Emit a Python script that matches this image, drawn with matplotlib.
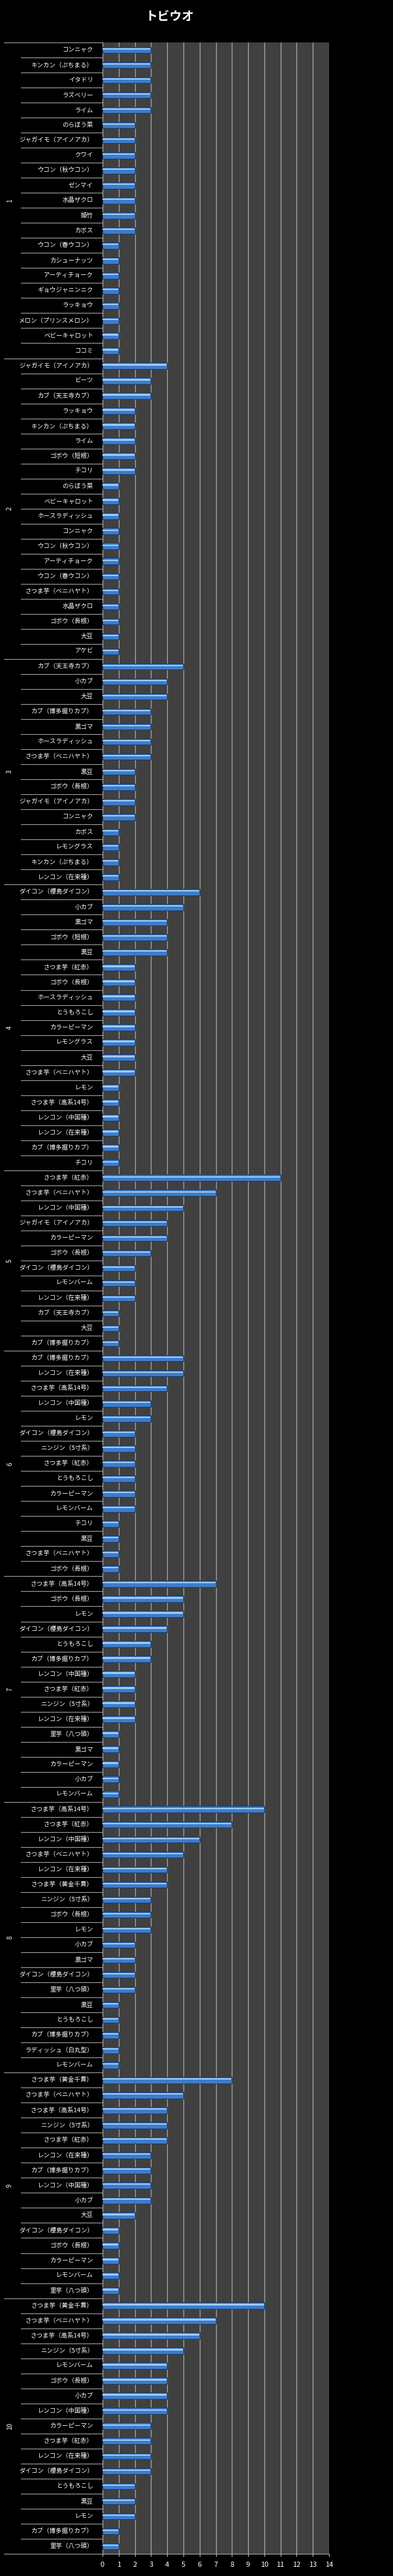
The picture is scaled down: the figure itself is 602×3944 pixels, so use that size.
import numpy as np
import matplotlib
matplotlib.use("Agg")
from matplotlib import pyplot as plt

plt.rcParams['font.family'] = ['Noto Sans CJK JP', 'DejaVu Sans']

title = "トビウオ"
groups = ["1", "2", "3", "4", "5", "6", "7", "8", "9", "10"]

g1_names = ["コンニャク", "キンカン（ぷちまる）", "イタドリ", "ラズベリー", "ライム", "のらぼう菜",
            "ジャガイモ（アイノアカ）", "クワイ", "ウコン（秋ウコン）", "ゼンマイ", "水晶ザクロ", "姫竹",
            "カボス", "ウコン（春ウコン）", "カシューナッツ", "アーティチョーク", "ギョウジャニンニク",
            "ラッキョウ", "メロン（プリンスメロン）", "ベビーキャロット", "ココミ"]
g1_vals = [3, 3, 3, 3, 3, 2, 2, 2, 2, 2, 2, 2, 2, 1, 1, 1, 1, 1, 1, 1, 1]

g2_names = ["ジャガイモ（アイノアカ）", "ビーツ", "カブ（天王寺カブ）", "ラッキョウ", "キンカン（ぷちまる）",
            "ライム", "ゴボウ（短根）", "チコリ", "のらぼう菜", "ベビーキャロット", "ホースラディッシュ",
            "コンニャク", "ウコン（秋ウコン）", "アーティチョーク", "ウコン（春ウコン）",
            "さつま芋（ベニハヤト）", "水晶ザクロ", "ゴボウ（長根）", "大豆", "アケビ"]
g2_vals = [4, 3, 3, 2, 2, 2, 2, 2, 1, 1, 1, 1, 1, 1, 1, 1, 1, 1, 1, 1]

g3_names = ["カブ（天王寺カブ）", "小カブ", "大豆", "カブ（博多据りカブ）", "黒ゴマ", "ホースラディッシュ",
            "さつま芋（ベニハヤト）", "黒豆", "ゴボウ（長根）", "ジャガイモ（アイノアカ）", "コンニャク",
            "カボス", "レモングラス", "キンカン（ぷちまる）", "レンコン（在来種）"]
g3_vals = [5, 4, 4, 3, 3, 3, 3, 2, 2, 2, 2, 1, 1, 1, 1]

g4_names = ["ダイコン（櫻島ダイコン）", "小カブ", "黒ゴマ", "ゴボウ（短根）", "黒豆", "さつま芋（紅赤）",
            "ゴボウ（長根）", "ホースラディッシュ", "とうもろこし", "カラーピーマン", "レモングラス", "大豆",
            "さつま芋（ベニハヤト）", "レモン", "さつま芋（高系14号）", "レンコン（中国種）",
            "レンコン（在来種）", "カブ（博多据りカブ）", "チコリ"]
g4_vals = [6, 5, 4, 4, 4, 2, 2, 2, 2, 2, 2, 2, 2, 1, 1, 1, 1, 1, 1]

g5_names = ["さつま芋（紅赤）", "さつま芋（ベニハヤト）", "レンコン（中国種）", "ジャガイモ（アイノアカ）",
            "カラーピーマン", "ゴボウ（長根）", "ダイコン（櫻島ダイコン）", "レモンバーム",
            "レンコン（在来種）", "カブ（天王寺カブ）", "大豆", "カブ（博多据りカブ）"]
g5_vals = [11, 7, 5, 4, 4, 3, 2, 2, 2, 1, 1, 1]

g6_names = ["カブ（博多据りカブ）", "レンコン（在来種）", "さつま芋（高系14号）", "レンコン（中国種）", "レモン",
            "ダイコン（櫻島ダイコン）", "ニンジン（5寸系）", "さつま芋（紅赤）", "とうもろこし",
            "カラーピーマン", "レモンバーム", "チコリ", "黒豆", "さつま芋（ベニハヤト）", "ゴボウ（長根）"]
g6_vals = [5, 5, 4, 3, 3, 2, 2, 2, 2, 2, 2, 1, 1, 1, 1]

g7_names = ["さつま芋（高系14号）", "ゴボウ（長根）", "レモン", "ダイコン（櫻島ダイコン）", "とうもろこし",
            "カブ（博多据りカブ）", "レンコン（中国種）", "さつま芋（紅赤）", "ニンジン（5寸系）",
            "レンコン（在来種）", "里芋（八つ頭）", "黒ゴマ", "カラーピーマン", "小カブ", "レモンバーム"]
g7_vals = [7, 5, 5, 4, 3, 3, 2, 2, 2, 2, 1, 1, 1, 1, 1]

g8_names = ["さつま芋（高系14号）", "さつま芋（紅赤）", "レンコン（中国種）", "さつま芋（ベニハヤト）",
            "レンコン（在来種）", "さつま芋（黄金千貫）", "ニンジン（5寸系）", "ゴボウ（長根）", "レモン",
            "小カブ", "黒ゴマ", "ダイコン（櫻島ダイコン）", "里芋（八つ頭）", "黒豆", "とうもろこし",
            "カブ（博多据りカブ）", "ラディッシュ（白丸型）", "レモンバーム"]
g8_vals = [10, 8, 6, 5, 4, 4, 3, 3, 3, 2, 2, 2, 2, 1, 1, 1, 1, 1]

g9_names = ["さつま芋（黄金千貫）", "さつま芋（ベニハヤト）", "さつま芋（高系14号）", "ニンジン（5寸系）",
            "さつま芋（紅赤）", "レンコン（在来種）", "カブ（博多据りカブ）", "レンコン（中国種）", "小カブ",
            "大豆", "ダイコン（櫻島ダイコン）", "ゴボウ（長根）", "カラーピーマン", "レモンバーム",
            "里芋（八つ頭）"]
g9_vals = [8, 5, 4, 4, 4, 3, 3, 3, 3, 2, 1, 1, 1, 1, 1]

g10_names = ["さつま芋（黄金千貫）", "さつま芋（ベニハヤト）", "さつま芋（高系14号）", "ニンジン（5寸系）",
             "レモンバーム", "ゴボウ（長根）", "小カブ", "レンコン（中国種）", "カラーピーマン",
             "さつま芋（紅赤）", "レンコン（在来種）", "ダイコン（櫻島ダイコン）", "とうもろこし", "黒豆",
             "レモン", "カブ（博多据りカブ）", "里芋（八つ頭）"]
g10_vals = [10, 7, 6, 5, 4, 4, 4, 4, 3, 3, 3, 3, 2, 2, 2, 1, 1]

all_names = [g1_names, g2_names, g3_names, g4_names, g5_names,
             g6_names, g7_names, g8_names, g9_names, g10_names]
all_vals = [g1_vals, g2_vals, g3_vals, g4_vals, g5_vals,
            g6_vals, g7_vals, g8_vals, g9_vals, g10_vals]

names = [n for g in all_names for n in g]
vals = np.array([v for g in all_vals for v in g])
sizes = [len(g) for g in all_names]
ypos = np.arange(len(names))

W, H = 602, 3944
fig = plt.figure(figsize=(W / 100, H / 100), dpi=100, facecolor='black')
left, right, top, bottom = 157, 504, 65, 3910
ax = fig.add_axes([left / W, 1 - bottom / H, (right - left) / W, (bottom - top) / H])
ax.set_facecolor('#404040')

# bars with a simple highlight stripe for the bevelled look
ax.barh(ypos, vals, height=0.42, color='#3f7cc8', edgecolor='#1b3d6e', linewidth=0.8, zorder=3)
ax.barh(ypos - 0.07, vals - 0.06, height=0.1, left=0.02, color='#9ccaf5', linewidth=0, zorder=4)

ax.set_xlim(0, 14)
ax.set_ylim(len(names) - 0.5, -0.5)
ax.set_xticks(np.arange(0, 15))
ax.xaxis.grid(True, color='#a8a8a8', linewidth=0.9, zorder=0)
ax.set_axisbelow(True)
ax.tick_params(axis='x', colors='#c8c8c8', labelsize=8, length=3, width=0.8, pad=6)
for t in ax.get_xticklabels():
    t.set_color('white')
ax.set_yticks([])
for side in ['top', 'right']:
    ax.spines[side].set_visible(False)
ax.spines['left'].set_color('#a8a8a8')
ax.spines['bottom'].set_color('#a8a8a8')

ytr = ax.get_yaxis_transform()
x_row = (32 - left) / (right - left)
x_grp = (6 - left) / (right - left)
x_txt = (143 - left) / (right - left)
x_num = (15 - left) / (right - left)

for i, n in enumerate(names):
    ax.text(x_txt, i, n, transform=ytr, ha='right', va='center', color='white',
            fontsize=6.8, clip_on=False)

starts = np.concatenate([[0], np.cumsum(sizes)])
for i in range(len(names) + 1):
    xs = x_grp if i in starts else x_row
    ax.plot([xs, 0], [i - 0.5, i - 0.5], transform=ytr, color='#a0a0a0', lw=0.8, clip_on=False)

for g, s, n in zip(groups, starts[:-1], sizes):
    ax.text(x_num, s + n / 2 - 0.5, g, transform=ytr, ha='center', va='center', color='white',
            fontsize=7, rotation=90, clip_on=False)

fig.text(260 / W, 1 - 25 / H, title, ha='center', va='center', color='white',
         fontsize=13.5, fontweight='bold')

fig.savefig('out.png', dpi=100, facecolor='black')
